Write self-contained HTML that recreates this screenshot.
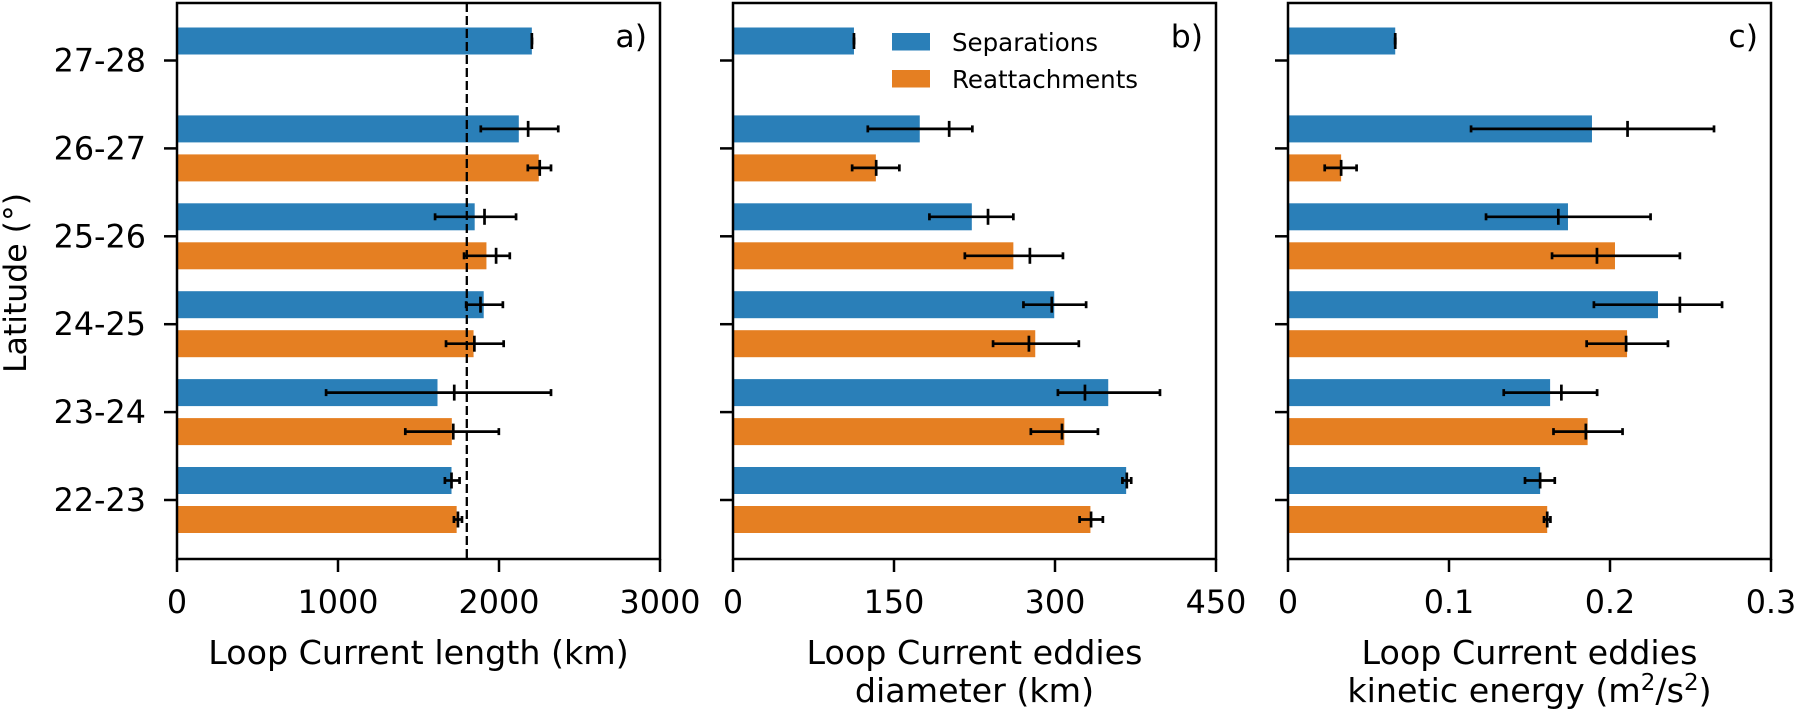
<!DOCTYPE html>
<html><head><meta charset="utf-8"><style>
html,body{margin:0;padding:0;background:#fff;}
svg{display:block;font-family:"DejaVu Sans","Liberation Sans",sans-serif;}
</style></head><body>
<svg id="chart" width="1795" height="716" viewBox="0 0 1795 716" xmlns="http://www.w3.org/2000/svg"></svg>
<script>
const categories = ["22-23","23-24","24-25","25-26","26-27","27-28"];
// Panel a: Loop Current length (km)
const aSepBar = [1705,1618,1905,1849,2123,2204];
const aSepMean = [1705,1722,1885,1910,2181,2204];
const aSepLo = [1664,926,1796,1603,1887,2204];
const aSepHi = [1755,2323,2024,2106,2368,2204];
const aReaBar = [1737,1707,1842,1922,2247,null];
const aReaMean = [1745,1716,1847,1982,2253,null];
const aReaLo = [1720,1418,1671,1783,2179,null];
const aReaHi = [1770,1999,2029,2067,2323,null];
const aTicks = [0,1000,2000,3000];
const aTickLabels = ["0","1000","2000","3000"];
const aRefLine = 1800;
// Panel b: eddy diameter (km)
const bSepBar = [366.3,349.6,299.3,222.5,174,112.7];
const bSepMean = [366.9,327.9,297,237.6,201.4,112.7];
const bSepLo = [362.8,302.7,270.6,183,125.6,112.7];
const bSepHi = [371,397.8,329,261.2,223,112.7];
const bReaBar = [333,308.7,281.6,261.2,133.1,null];
const bReaMean = [333.6,306.5,275.7,276.6,133.4,null];
const bReaLo = [322.9,277.5,242.3,216,111,null];
const bReaHi = [344.6,340,322.2,307.4,155,null];
const bTicks = [0,150,300,450];
const bTickLabels = ["0","150","300","450"];
// Panel c: kinetic energy (m2/s2)
const cSepBar = [0.1566,0.1628,0.2298,0.1739,0.1888,0.0666];
const cSepMean = [0.1566,0.1698,0.2434,0.1679,0.2109,0.0666];
const cSepLo = [0.1472,0.134,0.19,0.123,0.1137,0.0666];
const cSepHi = [0.1657,0.192,0.2696,0.2252,0.2646,0.0666];
const cReaBar = [0.161,0.1861,0.2106,0.2031,0.033,null];
const cReaMean = [0.161,0.185,0.21,0.1919,0.033,null];
const cReaLo = [0.159,0.1649,0.1855,0.164,0.0228,null];
const cReaHi = [0.163,0.2078,0.236,0.2434,0.0426,null];
const cTicks = [0,0.1,0.2,0.3];
const cTickLabels = ["0","0.1","0.2","0.3"];

const svg = document.getElementById('chart');
const NS = "http://www.w3.org/2000/svg";
const TOP = 3, BOT = 559;
const BLUE = "#2a7fb8", ORANGE = "#e57f22";
function mk(tag, attrs, parent){
  const e = document.createElementNS(NS, tag);
  for (const k in attrs) e.setAttribute(k, attrs[k]);
  (parent||svg).appendChild(e);
  return e;
}
function yPos(i){ return 500 - i*87.9; }

const panels = [
  {id:"a", x0:177, x1:660, max:3000, sb:aSepBar, sm:aSepMean, sl:aSepLo, sh:aSepHi, rb:aReaBar, rm:aReaMean, rl:aReaLo, rh:aReaHi, ticks:aTicks, tl:aTickLabels, label:["Loop Current length (km)"]},
  {id:"b", x0:733, x1:1216, max:450, sb:bSepBar, sm:bSepMean, sl:bSepLo, sh:bSepHi, rb:bReaBar, rm:bReaMean, rl:bReaLo, rh:bReaHi, ticks:bTicks, tl:bTickLabels, label:["Loop Current eddies","diameter (km)"]},
  {id:"c", x0:1288, x1:1771, max:0.3, sb:cSepBar, sm:cSepMean, sl:cSepLo, sh:cSepHi, rb:cReaBar, rm:cReaMean, rl:cReaLo, rh:cReaHi, ticks:cTicks, tl:cTickLabels, label:["Loop Current eddies","kinetic energy (m2/s2)"]}
];

panels.forEach((p, pi) => {
  const g = mk('g', {});
  
  
  const xs = v => p.x0 + v / p.max * (p.x1 - p.x0);
  function drawSeries(bars, means, los, his, off, color, sname){
    bars.forEach((v, i) => {
      if (v === null) return;
      const yc = yPos(i) + off;
      const r = mk('rect', {x:p.x0, y:yc-13.5, width:xs(v)-p.x0, height:27, fill:color}, g);
      
      
      const eg = mk('g', {stroke:'#000', 'stroke-width':2.7}, g);
      
      
      const lo = xs(los[i]), hi = xs(his[i]), mx = xs(means[i]);
      mk('line', {x1:lo, x2:hi, y1:yc, y2:yc}, eg);
      mk('line', {x1:lo, x2:lo, y1:yc-3.5, y2:yc+3.5}, eg);
      mk('line', {x1:hi, x2:hi, y1:yc-3.5, y2:yc+3.5}, eg);
      mk('line', {x1:mx, x2:mx, y1:yc-8, y2:yc+8}, eg);
    });
  }
  drawSeries(p.sb, p.sm, p.sl, p.sh, -19.5, BLUE, 'separations');
  drawSeries(p.rb, p.rm, p.rl, p.rh, 19.5, ORANGE, 'reattachments');
  if (p.id === 'a') {
    const d = mk('line', {x1:xs(aRefLine), x2:xs(aRefLine), y1:TOP, y2:BOT, stroke:'#000', 'stroke-width':2.3, 'stroke-dasharray':'9,4'}, g);
    
    
  }
  const frame = mk('rect', {x:p.x0, y:TOP, width:p.x1-p.x0, height:BOT-TOP, fill:'none', stroke:'#000', 'stroke-width':2.5}, g);
  
  
  categories.forEach((c, i) => {
    const y = yPos(i);
    mk('line', {x1:p.x0-13, x2:p.x0, y1:y, y2:y, stroke:'#000', 'stroke-width':2.5}, g);
    if (pi === 0) {
      const t = mk('text', {x:146, y:y+11, 'text-anchor':'end', 'font-size':31.8, fill:'#000'}, g);
      t.textContent = c;
      
      
    }
  });
  p.ticks.forEach((v, i) => {
    const x = xs(v);
    mk('line', {x1:x, x2:x, y1:BOT, y2:BOT+13, stroke:'#000', 'stroke-width':2.5}, g);
    const t = mk('text', {x:x, y:613, 'text-anchor':'middle', 'font-size':31.8, fill:'#000'}, g);
    t.textContent = p.tl[i];
    
    
  });
  const cx = (p.x0 + p.x1) / 2;
  p.label.forEach((ln, li) => {
    const t = mk('text', {x:cx, y:664 + li*38, 'text-anchor':'middle', 'font-size':33.3, fill:'#000'}, g);
    if (ln.indexOf('m2/s2') >= 0) {
      t.textContent = 'kinetic energy (m';
      const s1 = mk('tspan', {'font-size':23, dy:-12}, t); s1.textContent = '2';
      const s2 = mk('tspan', {dy:12}, t); s2.textContent = '/s';
      const s3 = mk('tspan', {'font-size':23, dy:-12}, t); s3.textContent = '2';
      const s4 = mk('tspan', {dy:12}, t); s4.textContent = ')';
    } else {
      t.textContent = ln;
    }
    
    
  });
  const pl = mk('text', {x:p.x1-13, y:47, 'text-anchor':'end', 'font-size':31.5, fill:'#000'}, g);
  pl.textContent = p.id + ')';
  
  
});

const yt = mk('text', {x:0, y:0, transform:'translate(26,283) rotate(-90)', 'text-anchor':'middle', 'font-size':31.5, fill:'#000'});
yt.textContent = 'Latitude (°)';



const lg = mk('g', {});


const entries = [["Separations", BLUE, 33], ["Reattachments", ORANGE, 70]];
entries.forEach(en => {
  const eg = mk('g', {}, lg);
  
  
  mk('rect', {x:892, y:en[2], width:38, height:17.5, fill:en[1]}, eg);
  const t = mk('text', {x:952, y:en[2]+18, 'font-size':24.5, fill:'#000'}, eg);
  t.textContent = en[0];
});
</script>
</body></html>
